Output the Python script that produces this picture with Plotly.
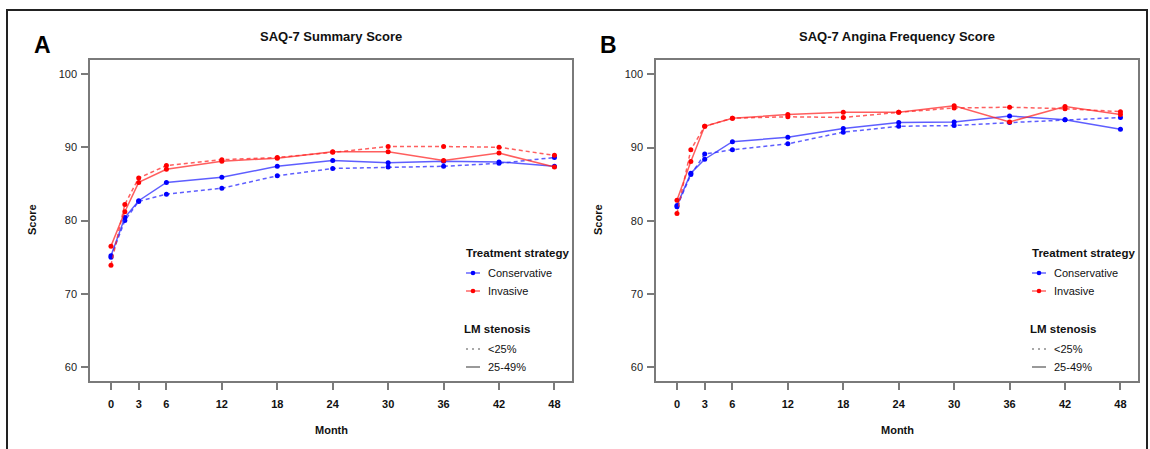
import plotly.graph_objects as go

# ---------------- data ----------------
months = [0, 1.5, 3, 6, 12, 18, 24, 30, 36, 42, 48]
month_ticks = [0, 3, 6, 12, 18, 24, 30, 36, 42, 48]
score_ticks = [60, 70, 80, 90, 100]

# Panel A: SAQ-7 Summary Score
a_cons_lt25 = [75.0, 80.0, 82.6, 83.6, 84.4, 86.1, 87.1, 87.3, 87.4, 87.8, 88.6]
a_cons_25_49 = [75.2, 80.4, 82.7, 85.2, 85.9, 87.4, 88.2, 87.9, 88.1, 88.0, 87.4]
a_inv_lt25 = [73.9, 82.2, 85.8, 87.5, 88.3, 88.6, 89.3, 90.1, 90.1, 90.0, 88.9]
a_inv_25_49 = [76.5, 81.2, 85.2, 87.0, 88.1, 88.5, 89.4, 89.4, 88.2, 89.2, 87.3]

# Panel B: SAQ-7 Angina Frequency Score
b_cons_lt25 = [81.9, 86.3, 89.1, 89.7, 90.5, 92.1, 92.9, 93.0, 93.4, 93.8, 94.1]
b_cons_25_49 = [82.1, 86.5, 88.4, 90.8, 91.4, 92.6, 93.4, 93.5, 94.3, 93.8, 92.5]
b_inv_lt25 = [81.0, 89.7, 92.9, 94.0, 94.2, 94.1, 94.8, 95.4, 95.5, 95.3, 94.9]
b_inv_25_49 = [82.8, 88.1, 92.9, 94.0, 94.5, 94.8, 94.8, 95.7, 93.5, 95.6, 94.5]

panel_titles = ["SAQ-7 Summary Score", "SAQ-7 Angina Frequency Score"]
panel_letters = ["A", "B"]
treat_labels = ["Conservative", "Invasive"]
sten_labels = ["<25%", "25-49%"]

# ---------------- style ----------------
W, H = 1150, 449
FONT = "Liberation Sans, Arial, Helvetica, sans-serif"
BLUE = "#0000FF"
RED = "#FF0000"
BLUE_L = "rgba(40,40,255,0.75)"
RED_L = "rgba(255,40,40,0.75)"
GREY = "#7a7a7a"


def X(px):
    return px / W


def Y(py):
    return 1 - py / H


fig = go.Figure()

panels = [
    dict(x="x", y="y", data=[(a_cons_lt25, BLUE, BLUE_L, "4px,3px"),
                             (a_cons_25_49, BLUE, BLUE_L, "solid"),
                             (a_inv_lt25, RED, RED_L, "4px,3px"),
                             (a_inv_25_49, RED, RED_L, "solid")]),
    dict(x="x2", y="y2", data=[(b_cons_lt25, BLUE, BLUE_L, "4px,3px"),
                               (b_cons_25_49, BLUE, BLUE_L, "solid"),
                               (b_inv_lt25, RED, RED_L, "4px,3px"),
                               (b_inv_25_49, RED, RED_L, "solid")]),
]

for p in panels:
    for vals, mc, lc, dash in p["data"]:
        fig.add_trace(go.Scatter(
            x=months, y=vals, xaxis=p["x"], yaxis=p["y"],
            mode="lines+markers",
            line=dict(color=lc, width=1.5, dash=dash),
            marker=dict(color=mc, size=5),
            showlegend=False, hoverinfo="skip"))

# plot-area pixel geometry
boxes = [(90, 572), (656, 1138)]
top_px, bot_px = 60, 381
yranges = [[58.09, 101.91], [58.12, 101.95]]
xranges = [[-2.27, 49.9], [-2.27, 49.9]]

axis_common = dict(showgrid=False, zeroline=False, showline=True, mirror=True,
                   linecolor=GREY, linewidth=1.5, ticks="outside",
                   tickcolor=GREY, tickwidth=1.5, ticklen=7)

layout = dict(
    template="none",
    width=W, height=H, autosize=False,
    margin=dict(l=0, r=0, t=0, b=0),
    paper_bgcolor="white", plot_bgcolor="white",
    font=dict(family=FONT, color="#111111", size=11),
    showlegend=False,
)
for i, (xl, xr) in enumerate(boxes):
    sx = "" if i == 0 else str(i + 1)
    layout["xaxis" + sx] = dict(
        axis_common, domain=[X(xl), X(xr)], range=xranges[i],
        anchor="y" + sx, tickvals=month_ticks,
        ticktext=[str(m) for m in month_ticks],
        tickfont=dict(family=FONT, size=11, color="#111111", weight="bold"),
        ticklabelstandoff=5)
    layout["yaxis" + sx] = dict(
        axis_common, domain=[Y(bot_px), Y(top_px)], range=yranges[i],
        anchor="x" + sx, tickvals=score_ticks,
        ticktext=[str(s) for s in score_ticks],
        tickfont=dict(family=FONT, size=11, color="#222222"),
        ticklabelstandoff=2)

fig.update_layout(**layout)

ann = []
shapes = []

for i, (xl, xr) in enumerate(boxes):
    cx = (xl + xr) / 2
    # panel title
    ann.append(dict(x=X(cx), y=Y(36), xref="paper", yref="paper",
                    text=panel_titles[i], showarrow=False,
                    xanchor="center", yanchor="middle",
                    font=dict(family=FONT, size=13, color="#111111", weight="bold")))
    # panel letter
    ann.append(dict(x=X(xl - 58), y=Y(45), xref="paper", yref="paper",
                    text=panel_letters[i], showarrow=False,
                    xanchor="left", yanchor="middle",
                    font=dict(family=FONT, size=23, color="#000000", weight="bold")))
    # axis titles
    ann.append(dict(x=X(cx), y=Y(430), xref="paper", yref="paper",
                    text="Month", showarrow=False,
                    xanchor="center", yanchor="middle",
                    font=dict(family=FONT, size=11, color="#111111", weight="bold")))
    ann.append(dict(x=X(xl - 58), y=Y(220), xref="paper", yref="paper",
                    text="Score", showarrow=False, textangle=-90,
                    xanchor="center", yanchor="middle",
                    font=dict(family=FONT, size=11, color="#111111", weight="bold")))

    # legend
    lx = xr - 107
    ann.append(dict(x=X(lx - 1), y=Y(253), xref="paper", yref="paper",
                    text="Treatment strategy", showarrow=False,
                    xanchor="left", yanchor="middle",
                    font=dict(family=FONT, size=11.5, color="#111111", weight="bold")))
    ann.append(dict(x=X(lx - 3), y=Y(329), xref="paper", yref="paper",
                    text="LM stenosis", showarrow=False,
                    xanchor="left", yanchor="middle",
                    font=dict(family=FONT, size=11.5, color="#111111", weight="bold")))
    for lab, yy, lc, mc in [(treat_labels[0], 273, BLUE_L, BLUE),
                            (treat_labels[1], 291, RED_L, RED)]:
        shapes.append(dict(type="line", xref="paper", yref="paper",
                           x0=X(lx + 1), x1=X(lx + 15), y0=Y(yy), y1=Y(yy),
                           line=dict(color=lc, width=1.4)))
        shapes.append(dict(type="circle", xref="paper", yref="paper",
                           x0=X(lx + 8 - 2.3), x1=X(lx + 8 + 2.3),
                           y0=Y(yy - 2.3), y1=Y(yy + 2.3),
                           fillcolor=mc, line=dict(width=0)))
        ann.append(dict(x=X(lx + 21), y=Y(yy), xref="paper", yref="paper",
                        text=lab, showarrow=False, xanchor="left", yanchor="middle",
                        font=dict(family=FONT, size=11, color="#111111")))
    for lab, yy, dash in [(sten_labels[0], 349, "2px,4px"),
                          (sten_labels[1], 367, "solid")]:
        shapes.append(dict(type="line", xref="paper", yref="paper",
                           x0=X(lx + 1), x1=X(lx + 15), y0=Y(yy), y1=Y(yy),
                           line=dict(color="#555555", width=1.2, dash=dash)))
        ann.append(dict(x=X(lx + 21), y=Y(yy), xref="paper", yref="paper",
                        text=lab.replace("<", "&lt;"), showarrow=False,
                        xanchor="left", yanchor="middle",
                        font=dict(family=FONT, size=11, color="#111111")))

# outer figure frame
shapes.append(dict(type="rect", xref="paper", yref="paper",
                   x0=X(7), x1=X(1147), y0=Y(10), y1=Y(470),
                   line=dict(color="#222222", width=2), fillcolor="rgba(0,0,0,0)",
                   layer="below"))

fig.update_layout(annotations=ann, shapes=shapes)
fig.write_html("out.html")
